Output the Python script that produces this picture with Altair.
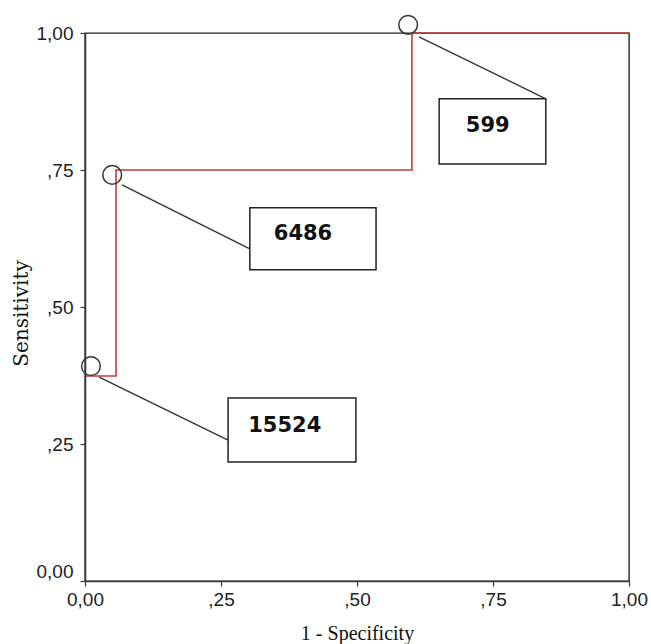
import altair as alt
import pandas as pd

# ROC curve vertices: 1 - specificity vs. sensitivity
roc_fpr = [0.0, 0.057, 0.057, 0.601, 0.601, 1.0]
roc_tpr = [0.374, 0.374, 0.75, 0.75, 1.0, 1.0]

# Cut-off values marked on the curve
cut_labels = ["599", "6486", "15524"]

# Axis ticks and their labels
tick_values = [0.0, 0.25, 0.5, 0.75, 1.0]
tick_labels = ["0,00", ",25", ",50", ",75", "1,00"]

# Callout placement (data units): marker circle, leader line, box, text anchor
marker_x = [0.594, 0.050, 0.011]
marker_y = [1.015, 0.741, 0.392]
leader_x = [0.614, 0.068, 0.026]
leader_y = [0.993, 0.723, 0.372]
leader_x2 = [0.847, 0.303, 0.263]
leader_y2 = [0.880, 0.606, 0.257]
box_x = [0.651, 0.303, 0.263]
box_x2 = [0.847, 0.535, 0.498]
box_y = [0.761, 0.568, 0.217]
box_y2 = [0.880, 0.681, 0.334]
text_x = [0.700, 0.347, 0.300]
text_y = [0.830, 0.634, 0.283]

roc = pd.DataFrame({"fpr": roc_fpr, "tpr": roc_tpr, "order": list(range(len(roc_fpr)))})
callouts = pd.DataFrame({
    "label": cut_labels,
    "mx": marker_x, "my": marker_y,
    "lx": leader_x, "ly": leader_y, "lx2": leader_x2, "ly2": leader_y2,
    "bx": box_x, "bx2": box_x2, "by": box_y, "by2": box_y2,
    "tx": text_x, "ty": text_y,
})

label_expr = "[" + ",".join("'" + t + "'" for t in tick_labels) + "][round(datum.value * 4)]"

x_scale = alt.Scale(domain=[0, 1], nice=False, zero=False)
y_scale = alt.Scale(domain=[0, 1], nice=False, zero=False)

axis_common = dict(
    values=tick_values,
    labelExpr=label_expr,
    labelFlush=False,
    grid=False,
    domainColor="#3a3a3a",
    domainWidth=1.6,
    tickColor="#3a3a3a",
    tickWidth=1.2,
    tickSize=5,
    labelFont="Liberation Sans",
    labelFontSize=19,
    labelColor="#222222",
    titleColor="#111111",
    titleFontWeight="normal",
    zindex=1,
)

x_axis = alt.Axis(
    title="1 - Specificity",
    labelPadding=4,
    titleFont="Liberation Serif",
    titleFontSize=20,
    titleY=58,
    titleBaseline="alphabetic",
    **axis_common,
)

y_axis = alt.Axis(
    title="Sensitivity",
    labelPadding=7,
    labelBaseline={"condition": {"test": "datum.value == 0", "value": "bottom"}, "value": "middle"},
    titleFont="DejaVu Serif",
    titleFontSize=20,
    titleAngle=-90,
    titleX=-58,
    titleY=280,
    titleAlign="center",
    titleBaseline="alphabetic",
    **axis_common,
)

curve = alt.Chart(roc).mark_line(color="#c83a3a", strokeWidth=1.6, interpolate="linear").encode(
    x=alt.X("fpr:Q", scale=x_scale, axis=x_axis),
    y=alt.Y("tpr:Q", scale=y_scale, axis=y_axis),
    order="order:Q",
)

base = alt.Chart(callouts)

leaders = base.mark_rule(color="#333333", strokeWidth=1.4).encode(
    x=alt.X("lx:Q", scale=x_scale),
    y=alt.Y("ly:Q", scale=y_scale),
    x2="lx2:Q",
    y2="ly2:Q",
)

markers = base.mark_point(
    shape="circle", filled=False, size=350, color="#333333", strokeWidth=1.5, opacity=1, clip=False
).encode(
    x=alt.X("mx:Q", scale=x_scale),
    y=alt.Y("my:Q", scale=y_scale),
)

boxes = base.mark_rect(fill="white", stroke="#222222", strokeWidth=1.5).encode(
    x=alt.X("bx:Q", scale=x_scale),
    x2="bx2:Q",
    y=alt.Y("by:Q", scale=y_scale),
    y2="by2:Q",
)

texts = base.mark_text(
    align="left", baseline="middle", font="DejaVu Sans", fontWeight="bold", fontSize=21, color="#111111"
).encode(
    x=alt.X("tx:Q", scale=x_scale),
    y=alt.Y("ty:Q", scale=y_scale),
    text="label:N",
)

chart = alt.layer(curve, leaders, boxes, texts, markers).properties(
    width=544,
    height=548,
    autosize=alt.AutoSizeParams(type="none"),
    padding={"left": 85, "top": 33, "right": 22, "bottom": 63},
    background="white",
).configure_view(stroke="#222222", strokeWidth=1.4)

chart.save("out.html", embed_options={"renderer": "svg", "actions": False})
